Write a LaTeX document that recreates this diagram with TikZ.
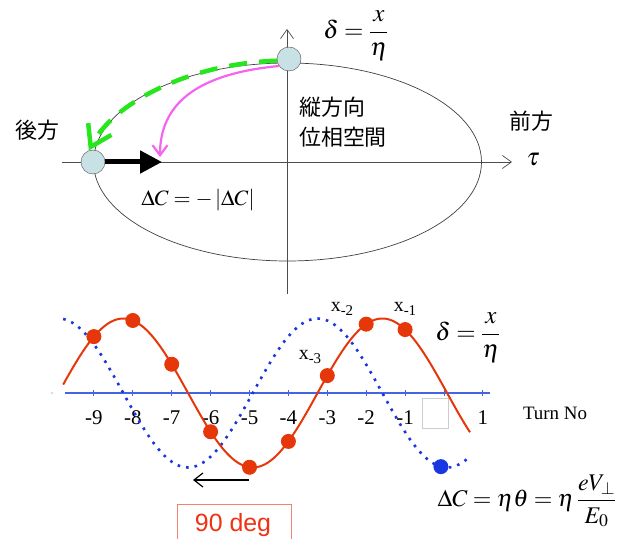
\documentclass[tikz,border=0pt]{standalone}
\usepackage{amsmath}
\usepackage{mathptmx}
\usepackage{fontspec}
\setmainfont{Liberation Serif}
\newfontfamily\cjkfont{Noto Sans CJK JP}
\newfontfamily\arialfont{Liberation Sans}
\usetikzlibrary{arrows.meta,calc}
\definecolor{beadfill}{RGB}{200,225,228}
\definecolor{kickgreen}{RGB}{40,230,30}
\definecolor{pathpink}{RGB}{245,100,240}
\definecolor{wavered}{RGB}{230,55,10}
\definecolor{waveblue}{RGB}{25,55,225}
\definecolor{axisblue}{RGB}{70,100,225}
\definecolor{boxred}{RGB}{240,130,110}
\definecolor{degred}{RGB}{240,50,20}
\newcommand{\turnlbl}[1]{x\raisebox{-0.45ex}{\fontsize{15}{15}\selectfont #1}}

\begin{document}
\begin{tikzpicture}[
  x=1bp,y=-1bp,
  declare function={tx(\t)=444+38.9*\t;
                    redy(\t)=393-74.5*sin(360*(\t+3.25)/6.66);
                    bluey(\t)=393-74.5*cos(360*(\t+3.25)/6.66);},
  % --- phase space (top) ---
  axisline/.style={draw=black!70,line width=0.7bp,-{Straight Barb[length=9bp,width=13bp]}},
  orbit/.style   ={draw=black!75,line width=0.7bp},
  bead/.style    ={circle,draw=black!70,fill=beadfill,minimum size=24bp,inner sep=0pt},
  kick/.style    ={line width=5bp,-{Triangle[length=22bp,width=22bp]}},
  greenpath/.style={draw=kickgreen,line width=4.5bp,dash pattern=on 18bp off 12bp,
                  -{Straight Barb[length=20bp,width=26bp,line width=4.5bp]}},
  pinkpath/.style={draw=pathpink,line width=2.2bp,-{Straight Barb[length=10bp,width=15bp]}},
  cjk/.style     ={font=\cjkfont\fontsize{22}{30}\selectfont,inner sep=0pt},
  mathlbl/.style ={font=\fontsize{22}{26}\selectfont,inner sep=0pt},
  fraclbl/.style ={font=\fontsize{25}{29}\selectfont,inner sep=0pt},
  % --- turn-by-turn plot (bottom) ---
  turnaxis/.style={draw=axisblue,line width=1.4bp},
  redwave/.style ={draw=wavered,line width=2bp},
  bluewave/.style={draw=waveblue,line width=2.6bp,dash pattern=on 2.6bp off 6bp},
  reddot/.style  ={circle,fill=wavered,minimum size=15bp,inner sep=0pt},
  bluedot/.style ={circle,fill=waveblue,minimum size=15bp,inner sep=0pt},
  ticklbl/.style ={font=\fontsize{21}{21}\selectfont,inner sep=0pt},
  xlbl/.style    ={font=\fontsize{20}{20}\selectfont,inner sep=0pt},
]
\useasboundingbox (0,0) rectangle (629,539);
\clip (0,0) rectangle (629,539);

% ============================ longitudinal phase space ============================
\draw[orbit] (287.5,162) ellipse [x radius=194,y radius=99];
\draw[axisline] (62,162) -- (512,162);
\draw[axisline] (287,294) -- (287,29);

\node[bead] (ptop)  at (289,59) {};
\node[bead] (pleft) at (93,162) {};

\coordinate (kickend) at (162,162);
\coordinate (pinkend) at (160,157);
\draw[kick] (pleft.east) -- (kickend);
\draw[greenpath] (ptop.188) .. controls (185,64) and (112,105) .. (pleft.110);
\draw[pinkpath] (ptop.215) .. controls (195,74) and (160,105) .. (pinkend);

\node[fraclbl] (deltatop) at (356,36) {$\delta=\dfrac{x}{\eta}$};
\node[cjk,align=left,anchor=west] (phsp) at (299,122) {縦方向\\位相空間};
\node[cjk] (back)  at (37,130)  {後方};
\node[cjk] (front) at (531,121) {前方};
\node[fraclbl] (tau) at (533,160) {$\tau$};
\node[mathlbl] (dcneg) at (198,200) {$\Delta C=-\left|\Delta C\right|$};

% ============================ turn-by-turn oscillation ============================
\draw[turnaxis] (65,393) -- (490,393);
\foreach \t in {-9,...,1}
  \draw[turnaxis,line width=1bp] ({tx(\t)},390) -- ({tx(\t)},396);
\foreach \t in {-9,...,-1}
  \node[ticklbl] (tk\t) at ({tx(\t)},418) {\t};
\node[ticklbl] (tk1) at ({tx(1)},418) {1};
\node[draw=black!20,fill=white,minimum width=26bp,minimum height=30bp,inner sep=0pt]
  (blank) at (435,413) {};
\node[font=\fontsize{6}{6}\selectfont,text=black!35,inner sep=0pt] (origin) at (52,394) {×};

\draw[bluewave] plot[domain=-9.79:0.67,samples=150] ({tx(\x)},{bluey(\x)});
\draw[redwave]  plot[domain=-9.79:0.67,samples=150] ({tx(\x)},{redy(\x)});
\foreach \t in {-9,...,-1}
  \node[reddot] (rd\t) at ({tx(\t)},{redy(\t)}) {};
\node[bluedot] (bd0) at ({tx(-0.08)},{bluey(-0.08)}) {};

\node[xlbl] (xm2) at (342,309) {\turnlbl{-2}};
\node[xlbl] (xm1) at (405,309) {\turnlbl{-1}};
\node[xlbl] (xm3) at (310,357) {\turnlbl{-3}};

\node[fraclbl] (deltabot) at (468,338) {$\delta=\dfrac{x}{\eta}$};
\node[font=\fontsize{19}{19}\selectfont,inner sep=0pt] (turnno) at (555,413) {Turn No};

\coordinate (shiftR) at (249,480);
\coordinate (shiftL) at (193,480);
\draw[line width=1.2bp,-{Straight Barb[length=9bp,width=14bp]}] (shiftR) -- (shiftL);

\node[draw=boxred,line width=1bp,minimum width=114bp,minimum height=44bp,inner sep=0pt,
      anchor=north] (deg) at (234,504) {};
\node[text=degred,font=\arialfont\fontsize{25}{25}\selectfont,inner sep=0pt] (degtxt) at (233,525) {90 deg};

\node[font=\fontsize{24}{28}\selectfont,inner sep=0pt] (dckick) at (527,501)
  {$\Delta C=\eta\theta=\eta\,\dfrac{eV_{\perp}}{E_0}$};
\end{tikzpicture}
\end{document}
